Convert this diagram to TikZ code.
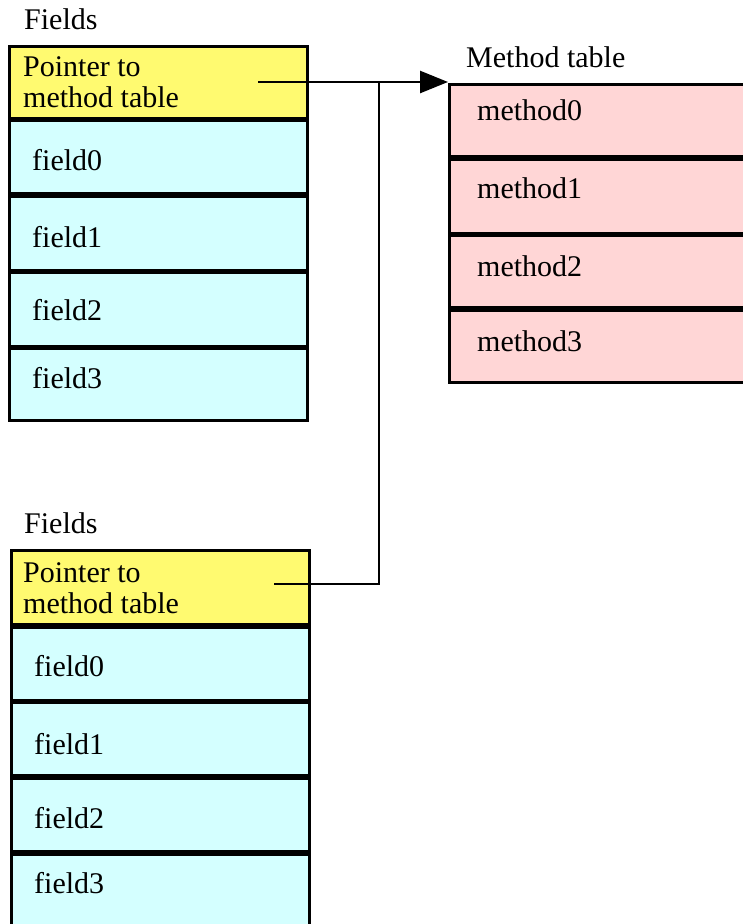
\documentclass[tikz,border=0pt]{standalone}
\usepackage{fontspec}
\setmainfont{Liberation Serif}
\usetikzlibrary{arrows.meta}
\definecolor{ptrfill}{HTML}{FFFA70}
\definecolor{fldfill}{HTML}{D4FFFF}
\definecolor{mthfill}{HTML}{FFD6D6}
\tikzset{
  cell/.style={draw=black, line width=2.6pt, inner sep=0pt, anchor=north west, minimum width=#1},
  ptrcell/.style={cell=298pt, fill=ptrfill, minimum height=72pt},
  fldcell/.style={cell=298pt, fill=fldfill, minimum height=73pt},
  mthcell/.style={cell=300pt, fill=mthfill, minimum height=72pt},
  lbl/.style={anchor=base west, inner sep=0pt, font=\fontsize{30}{30}\selectfont},
  link/.style={draw=black, line width=2.6pt}
}
\begin{document}
\begin{tikzpicture}[x=1pt,y=-1pt]
\useasboundingbox (0,0) rectangle (743,924);
\clip (0,0) rectangle (743,924);
% top object
\node[lbl] (f1t) at (24,29) {Fields};
\node[ptrcell] (p1) at (8,45) {};
\node[lbl] (p1a) at (23,76) {Pointer to};
\node[lbl] (p1b) at (23,107) {method table};
\node[fldcell] (a0) at (8,119) {};
\node[fldcell, minimum height=74pt] (a1) at (8,195) {};
\node[fldcell, minimum height=74pt] (a2) at (8,271) {};
\node[fldcell, minimum height=72pt] (a3) at (8,347) {};
\node[lbl] at (32,170) (a0t) {field0};
\node[lbl] at (32,247) (a1t) {field1};
\node[lbl] at (32,320) (a2t) {field2};
\node[lbl] at (32,388) (a3t) {field3};
% method table
\node[lbl] (mt) at (466,67) {Method table};
\node[mthcell] (m0) at (448,83) {};
\node[mthcell, minimum height=74pt] (m1) at (448,158) {};
\node[mthcell, minimum height=72pt] (m2) at (448,234) {};
\node[mthcell, minimum height=72pt] (m3) at (448,309) {};
\node[lbl] (m0t) at (477,120) {method0};
\node[lbl] (m1t) at (477,198) {method1};
\node[lbl] (m2t) at (477,276) {method2};
\node[lbl] (m3t) at (477,351) {method3};
% bottom object
\node[lbl] (f2t) at (24,533) {Fields};
\node[ptrcell, minimum height=74pt] (p2) at (10,549) {};
\node[lbl] (p2a) at (23,582) {Pointer to};
\node[lbl] (p2b) at (23,613) {method table};
\node[fldcell] (b0) at (10,626) {};
\node[fldcell] (b1) at (10,701) {};
\node[fldcell] (b2) at (10,777) {};
\node[fldcell, minimum height=80pt] (b3) at (10,853) {};
\node[lbl] (b0t) at (34,676) {field0};
\node[lbl] (b1t) at (34,754) {field1};
\node[lbl] (b2t) at (34,828) {field2};
\node[lbl] (b3t) at (34,893) {field3};
% connectors
\coordinate (s1) at (258,82);
\coordinate (s2) at (274,584);
\coordinate (j) at (379,82);
\coordinate (tip) at (448,82);
\draw[link, -{Triangle[length=28pt,width=22pt]}] (s1) -- (tip);
\draw[link] (s2) -| (j);
\end{tikzpicture}
\end{document}
